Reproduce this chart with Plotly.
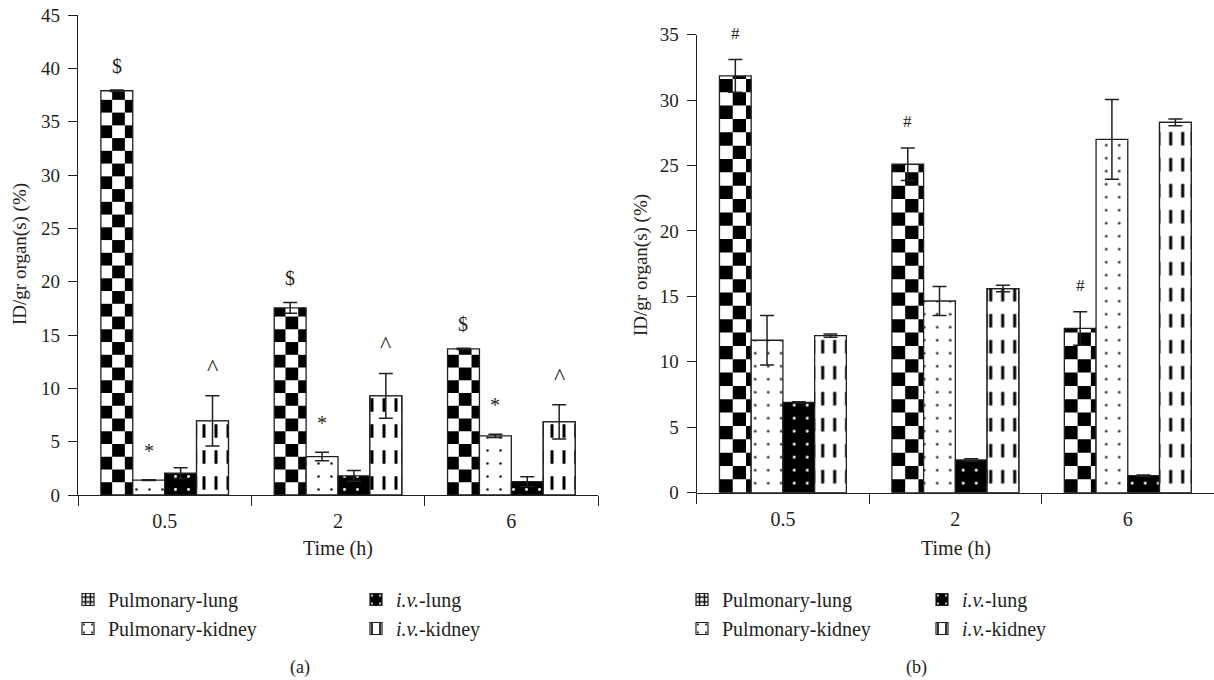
import math
import plotly.graph_objects as go

# ---------------- data ----------------
times = ["0.5", "2", "6"]
series_names = ["Pulmonary-lung", "Pulmonary-kidney", "<i>i.v.</i>-lung", "<i>i.v.</i>-kidney"]

# Panel (a)
a_pul_lung = [37.9, 17.55, 13.7]
a_pul_lung_err = [0.08, 0.5, 0.06]
a_pul_kid = [1.4, 3.6, 5.55]
a_pul_kid_err = [0.04, 0.4, 0.15]
a_iv_lung = [2.05, 1.8, 1.25]
a_iv_lung_err = [0.5, 0.5, 0.45]
a_iv_kid = [6.95, 9.3, 6.85]
a_iv_kid_err = [2.35, 2.1, 1.6]

# Panel (b)
b_pul_lung = [31.85, 25.1, 12.55]
b_pul_lung_err = [1.25, 1.25, 1.28]
b_pul_kid = [11.65, 14.65, 27.0]
b_pul_kid_err = [1.9, 1.1, 3.05]
b_iv_lung = [6.9, 2.5, 1.3]
b_iv_lung_err = [0.05, 0.1, 0.05]
b_iv_kid = [12.0, 15.6, 28.3]
b_iv_kid_err = [0.12, 0.25, 0.25]

a_sig = ["$", "*", "^"]   # over pulmonary-lung, pulmonary-kidney, i.v.-kidney
b_sig = ["#"]             # over pulmonary-lung

y_title = "ID/gr organ(s) (%)"
x_title = "Time (h)"

# ---------------- style ----------------
FONT = "Liberation Serif, Tinos, Times New Roman, DejaVu Serif, serif"
INK = "#231f20"
BW = 0.184                       # bar width in category units
OFFS = [-2 * BW + i * BW for i in range(4)]
LINE = dict(color=INK, width=1.3)
ERR = dict(type="data", visible=True, color=INK, thickness=1.5, width=7)

fig = go.Figure()


def err(vals):
    return dict(ERR, array=vals)


def checker_trace(vals, xa, ya, sq_w, first_w, sq_h):
    xs, bases, hs, offs, wids = [], [], [], [], []
    for cat, v in zip(times, vals):
        edges = [0.0, first_w]
        while edges[-1] + sq_w < BW - 1e-9:
            edges.append(edges[-1] + sq_w)
        edges.append(BW)
        nrows = int(math.ceil(v / sq_h))
        for c in range(len(edges) - 1):
            for r in range(nrows):
                if (c + r) % 2 == 0:
                    lo = r * sq_h
                    hi = min((r + 1) * sq_h, v)
                    if hi - lo <= 0:
                        continue
                    xs.append(cat)
                    bases.append(lo)
                    hs.append(hi - lo)
                    offs.append(OFFS[0] + edges[c])
                    wids.append(edges[c + 1] - edges[c])
    return go.Bar(x=xs, y=hs, base=bases, offset=offs, width=wids,
                  marker=dict(color="black", line=dict(width=0)),
                  xaxis=xa, yaxis=ya, showlegend=False, hoverinfo="skip")


def add_panel(xa, ya, pl, ple, pk, pke, il, ile, ik, ike, sq_w, first_w, sq_h):
    w = [BW] * 3
    fig.add_trace(go.Bar(x=times, y=pl, width=w, offset=OFFS[0],
                         marker=dict(color="white", line=dict(width=0)),
                         xaxis=xa, yaxis=ya, showlegend=False))
    fig.add_trace(checker_trace(pl, xa, ya, sq_w, first_w, sq_h))
    fig.add_trace(go.Bar(x=times, y=pl, width=w, offset=OFFS[0],
                         marker=dict(color="rgba(0,0,0,0)", line=LINE),
                         error_y=err(ple), xaxis=xa, yaxis=ya, showlegend=False))
    fig.add_trace(go.Bar(x=times, y=pk, width=w, offset=OFFS[1],
                         marker=dict(color="white", line=LINE,
                                     pattern=dict(shape=".", fgcolor="#1b2a1b", bgcolor="white",
                                                  size=13, solidity=0.035, fillmode="replace")),
                         error_y=err(pke), xaxis=xa, yaxis=ya, showlegend=False))
    fig.add_trace(go.Bar(x=times, y=il, width=w, offset=OFFS[2],
                         marker=dict(color="black", line=LINE,
                                     pattern=dict(shape=".", fgcolor="white", bgcolor="black",
                                                  size=13, solidity=0.04, fillmode="replace")),
                         error_y=err(ile), xaxis=xa, yaxis=ya, showlegend=False))
    fig.add_trace(go.Bar(x=times, y=ik, width=w, offset=OFFS[3],
                         marker=dict(color="white", line=LINE,
                                     pattern=dict(shape="|", fgcolor="black", bgcolor="white",
                                                  size=12, solidity=0.25, fillmode="replace")),
                         xaxis=xa, yaxis=ya, showlegend=False))
    fig.add_trace(go.Bar(x=times, y=ik, width=w, offset=OFFS[3],
                         marker=dict(color="rgba(0,0,0,0)", line=LINE,
                                     pattern=dict(shape="-", fgcolor="white", bgcolor="rgba(0,0,0,0)",
                                                  size=26, solidity=0.48, fillmode="replace")),
                         error_y=err(ike), xaxis=xa, yaxis=ya, showlegend=False))


add_panel("x", "y", a_pul_lung, a_pul_lung_err, a_pul_kid, a_pul_kid_err,
          a_iv_lung, a_iv_lung_err, a_iv_kid, a_iv_kid_err,
          sq_w=0.0733, first_w=0.065, sq_h=1.195)
add_panel("x2", "y2", b_pul_lung, b_pul_lung_err, b_pul_kid, b_pul_kid_err,
          b_iv_lung, b_iv_lung_err, b_iv_kid, b_iv_kid_err,
          sq_w=0.077, first_w=0.077, sq_h=1.02)

# ---------------- legends (swatch-only traces) ----------------
leg_patterns = [
    dict(color="white", pattern=dict(shape="+", fgcolor="black", bgcolor="white", size=6, solidity=0.5, fillmode="replace")),
    dict(color="white", pattern=dict(shape=".", fgcolor="black", bgcolor="white", size=12, solidity=0.05, fillmode="replace")),
    dict(color="black", pattern=dict(shape=".", fgcolor="white", bgcolor="black", size=12, solidity=0.05, fillmode="replace")),
    dict(color="white", pattern=dict(shape="|", fgcolor="black", bgcolor="white", size=12, solidity=0.2, fillmode="replace")),
]
leg_ids = [["legend", "legend", "legend2", "legend2"], ["legend3", "legend3", "legend4", "legend4"]]
for p, (xa, ya) in enumerate([("x", "y"), ("x2", "y2")]):
    for i, name in enumerate(series_names):
        fig.add_trace(go.Bar(x=[None], y=[None], name=name, xaxis=xa, yaxis=ya,
                             marker=dict(leg_patterns[i], line=dict(color=INK, width=1.2)),
                             legend=leg_ids[p][i], showlegend=True))

# ---------------- significance marks ----------------
annots = []
def mark(xref, yref, vals, errs, s_idx, text, shift, size):
    for i, (v, e) in enumerate(zip(vals, errs)):
        annots.append(dict(x=i + OFFS[s_idx] + BW / 2, y=v + e, xref=xref, yref=yref,
                           text=text, showarrow=False, yanchor="middle", yshift=shift,
                           font=dict(family=FONT, size=size, color=INK)))

mark("x", "y", a_pul_lung, a_pul_lung_err, 0, a_sig[0], 24, 20)
mark("x", "y", a_pul_kid, a_pul_kid_err, 1, a_sig[1], 29, 20)
mark("x", "y", a_iv_kid, a_iv_kid_err, 3, a_sig[2], 29, 24)
mark("x2", "y2", b_pul_lung, b_pul_lung_err, 0, b_sig[0], 26, 17)

W, H = 1214, 680
def px(xp):
    return xp / W
def py(yp):
    return 1 - yp / H

for xc, yc, txt in [(20, 254, y_title), (641, 265, y_title)]:
    annots.append(dict(x=px(xc), y=py(yc), xref="paper", yref="paper", text=txt, textangle=-90,
                       showarrow=False, xanchor="center", yanchor="middle",
                       font=dict(family=FONT, size=19, color=INK)))
for xc, yc, txt in [(338, 548, x_title), (956, 548, x_title), (300, 667, "(a)"), (916, 667, "(b)")]:
    annots.append(dict(x=px(xc), y=py(yc), xref="paper", yref="paper", text=txt,
                       showarrow=False, xanchor="center", yanchor="middle",
                       font=dict(family=FONT, size=20 if "Time" in txt else 18, color=INK)))

xax = dict(type="category", tickson="boundaries", ticks="outside", ticklen=10, tickwidth=1.2,
           tickcolor=INK, showline=True, linecolor=INK, linewidth=1.3, showgrid=False,
           zeroline=False, range=[-0.5, 2.5], ticklabelstandoff=8, automargin=False,
           tickfont=dict(family=FONT, size=20, color=INK))
yax = dict(ticks="outside", ticklen=9, tickwidth=1.2, tickcolor=INK, showline=True,
           linecolor=INK, linewidth=1.3, showgrid=False, zeroline=False, dtick=5,
           ticklabelstandoff=4, automargin=False, tickfont=dict(family=FONT, size=19, color=INK))

legend_base = dict(orientation="v", xanchor="left", yanchor="top", bgcolor="rgba(0,0,0,0)",
                   font=dict(family=FONT, size=20, color=INK), tracegroupgap=0, itemclick=False)
fig.update_layout(
    width=W, height=H, autosize=False,
    margin=dict(l=0, r=0, t=0, b=0, autoexpand=False),
    paper_bgcolor="white", plot_bgcolor="white",
    barmode="overlay",
    xaxis=dict(xax, domain=[px(78), px(598)], anchor="y"),
    yaxis=dict(yax, domain=[py(495), py(15)], range=[0, 45], anchor="x"),
    xaxis2=dict(xax, domain=[px(696.7), 1.0], anchor="y2"),
    yaxis2=dict(yax, domain=[py(492.7), py(34.7)], range=[0, 35], anchor="x2"),
    legend=dict(legend_base, x=px(68), y=py(580)),
    legend2=dict(legend_base, x=px(356), y=py(580)),
    legend3=dict(legend_base, x=px(682), y=py(580)),
    legend4=dict(legend_base, x=px(922), y=py(580)),
    annotations=annots,
    showlegend=True,
)

fig.write_html("out.html", config={"displayModeBar": False},
               post_script="document.body.style.margin='0';document.body.style.padding='0';")
